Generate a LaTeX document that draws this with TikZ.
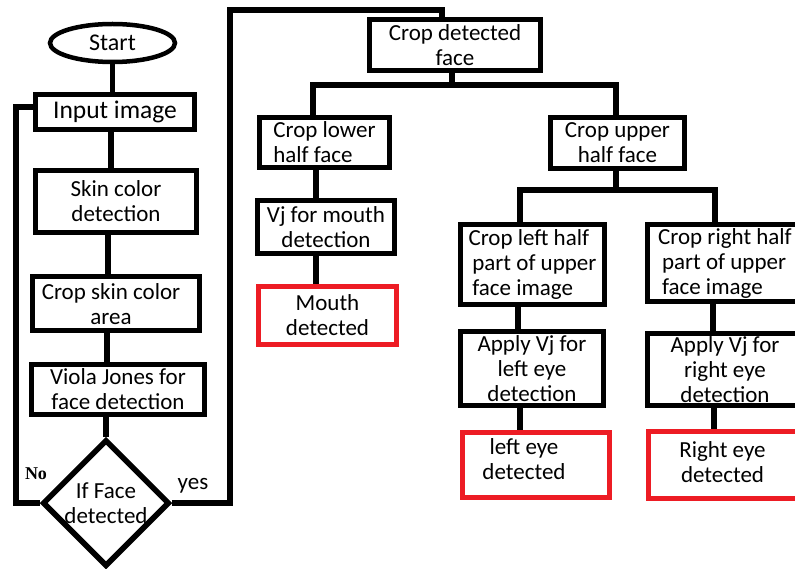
\documentclass[tikz,border=0pt]{standalone}
\usepackage{fontspec}
\setmainfont{Carlito}
\newfontfamily\labelserif{Liberation Serif}
\usetikzlibrary{shapes.geometric}
\definecolor{boxred}{RGB}{237,28,36}
\newcommand\offtext[3]{\raisebox{#2}[\height][\depth]{\begin{tabular}{@{}c@{}}#3\end{tabular}}\hspace*{#1}}
\tikzset{
  box/.style={draw=black, line width=5.5pt, rectangle, inner sep=0pt, align=center,
    font=\fontsize{23}{25}\selectfont},
  redbox/.style={box, draw=boxred},
  conn/.style={draw=black, line width=5.5pt},
}
\begin{document}
\begin{tikzpicture}[x=1pt,y=-1pt]
\useasboundingbox (0,0) rectangle (795,569);
\clip (0,0) rectangle (795,569);
\fill[white] (0,0) rectangle (795,569);

% left column
\node[draw, ellipse, line width=4.5pt, minimum width=125pt, minimum height=38pt, inner sep=0pt,
  font=\fontsize{24}{25}\selectfont] (start) at (112.5,43) {Start};
\node[box, minimum width=159pt, minimum height=35pt, font=\fontsize{25.5}{27}\selectfont] (in) at (115,112) {Input image};
\node[box, minimum width=161pt, minimum height=62pt] (skin) at (116,201.5) {Skin color\\detection};
\node[box, minimum width=167pt, minimum height=54pt, align=none] (cskin) at (116,303.5) {\offtext{10pt}{-3pt}{Crop skin color\\area}};
\node[box, minimum width=173pt, minimum height=50pt] (vio) at (118,389.5) {Viola Jones for\\face detection};
\node[draw, diamond, line width=5.5pt, minimum width=127pt, minimum height=127pt, inner sep=0pt, align=center,
  font=\fontsize{23}{25}\selectfont] (dec) at (106,503) {If Face\\detected};

% right part
\node[box, minimum width=171pt, minimum height=51pt] (cdf) at (455,45) {Crop detected\\face};
\node[box, minimum width=130pt, minimum height=50pt, align=left] (lower) at (324.5,142.5) {Crop lower\\half face};
\node[box, minimum width=134pt, minimum height=51pt] (upper) at (617.5,143) {Crop upper\\half face};
\node[box, minimum width=137pt, minimum height=53pt] (vjm) at (326,227) {Vj for mouth\\detection};
\node[redbox, minimum width=138pt, minimum height=58pt] (mouth) at (327.5,315.5) {Mouth\\detected};
\node[box, minimum width=144pt, minimum height=80pt, align=left] (cleft) at (532.5,264.5) {Crop left half\\\,part of upper\\\,face image};
\node[box, minimum width=155pt, minimum height=77pt, align=left] (cright) at (725,263) {Crop right half\\\,part of upper\\\,face image};
\node[box, minimum width=143pt, minimum height=74pt] (aleft) at (532,368.5) {Apply Vj for\\left eye\\detection};
\node[box, minimum width=155pt, minimum height=72pt] (aright) at (725,369.5) {Apply Vj for\\right eye\\detection};
\node[redbox, minimum width=147pt, minimum height=65pt, align=none] (leye) at (536,465) {\offtext{24pt}{3pt}{left eye\\detected}};
\node[redbox, minimum width=154pt, minimum height=67pt, align=none] (reye) at (725.5,465) {\offtext{6pt}{0pt}{Right eye\\detected}};

% labels
\node[font=\labelserif\bfseries\fontsize{18}{20}\selectfont] (no) at (36,474) {No};
\node[font=\fontsize{23}{25}\selectfont] (yes) at (193,486) {yes};

% connectors left column
\draw[conn] (start.south) -- (start.south |- in.north);
\draw[conn] ([xshift=-4pt]in.south) -- ([xshift=-4pt]in.south |- skin.north);
\draw[conn] ([xshift=-8pt]skin.south) -- ([xshift=-8pt]skin.south |- cskin.north);
\draw[conn] ([xshift=-9pt]cskin.south) -- ([xshift=-9pt]cskin.south |- vio.north);
\draw[conn] (dec.north |- vio.south) -- (dec.north);

% no loop
\coordinate (noturn) at (16,503);
\draw[conn] (dec.west) -- (noturn) |- ([yshift=5pt]in.west);

% yes loop
\coordinate (yesturn) at (230,503);
\coordinate (yestop) at (442,10);
\draw[conn] (dec.east) -- (yesturn) |- (yestop) -- (yestop |- cdf.north);

% tree
\coordinate (j1) at (452,85);
\draw[conn] ([xshift=-3pt]cdf.south) -- (j1);
\draw[conn] ([xshift=-11.5pt]lower.north) |- (j1) -| ([xshift=-1.5pt]upper.north);
\draw[conn] ([xshift=-8.5pt]lower.south) -- ([xshift=-8.5pt]lower.south |- vjm.north);
\draw[conn] ([xshift=-10pt]vjm.south) -- ([xshift=-10pt]vjm.south |- mouth.north);

\coordinate (j2) at (616,190);
\draw[conn] ([xshift=-1.5pt]upper.south) -- (j2);
\draw[conn] ([xshift=-12.5pt]cleft.north) |- (j2) -| ([xshift=-10pt]cright.north);
\draw[conn] ([xshift=-14.5pt]cleft.south) -- ([xshift=-14.5pt]cleft.south |- aleft.north);
\draw[conn] ([xshift=-12pt]aleft.south) -- ([xshift=-12pt]aleft.south |- leye.north);
\draw[conn] ([xshift=-12pt]cright.south) -- ([xshift=-12pt]cright.south |- aright.north);
\draw[conn] ([xshift=-11pt]aright.south) -- ([xshift=-11pt]aright.south |- reye.north);
\end{tikzpicture}
\end{document}
